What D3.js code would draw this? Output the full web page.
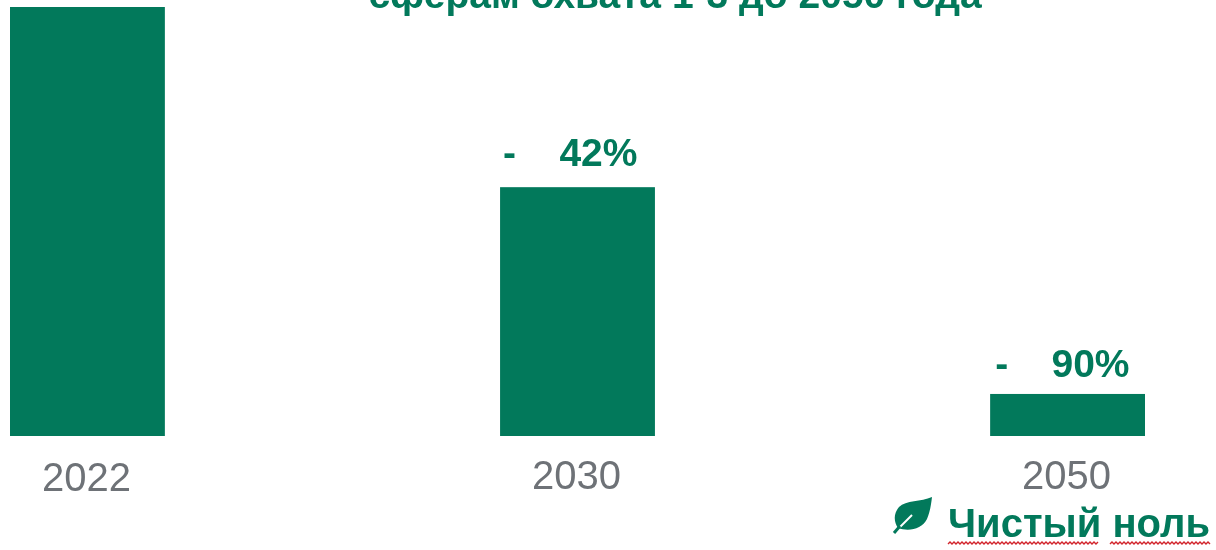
<!DOCTYPE html>
<html>
<head>
<meta charset="utf-8">
<script src="https://d3js.org/d3.v7.min.js"></script>
<style>
  html, body { margin: 0; padding: 0; background: #fff; overflow: hidden; }
  text { font-family: "Liberation Sans", Arial, sans-serif; }
  svg { filter: blur(0.5px); }
</style>
</head>
<body>
<svg id="chart" width="1216" height="550"></svg>
<script>
var years = ["2022", "2030", "2050"];
var values = [100, 58, 9.8];
var labels = ["", "-    42%", "-    90%"];
var titleText = "сферам охвата 1-3 до 2050 года";
var badgeWords = ["Чистый", "ноль"];

var green = "#02795b";
var svg = d3.select("#chart");

var x = d3.scaleBand()
    .domain(years)
    .range([10, 1145])
    .paddingInner(0.684)
    .paddingOuter(0);

var y = d3.scaleLinear()
    .domain([0, 100])
    .range([436, 7]);

// title, cut off by the top edge like in the original
svg.append("text")
    .attr("x", 675)
    .attr("y", 8)
    .attr("text-anchor", "middle")
    .attr("font-size", 39)
    .attr("font-weight", "bold")
    .attr("fill", green)
    .text(titleText);

svg.selectAll("rect.bar")
    .data(values)
    .enter()
    .append("rect")
    .attr("class", "bar")
    .attr("x", function(d, i) { return x(years[i]); })
    .attr("y", function(d) { return y(d); })
    .attr("width", x.bandwidth())
    .attr("height", function(d) { return y(0) - y(d); })
    .attr("fill", green);

svg.selectAll("text.value")
    .data(values)
    .enter()
    .append("text")
    .attr("class", "value")
    .attr("x", function(d, i) { return x(years[i]) + (i == 2 ? 5 : 3); })
    .attr("y", function(d, i) { return y(d) - (i == 2 ? 17 : 21); })
    .attr("font-size", 39)
    .attr("font-weight", "bold")
    .attr("fill", green)
    .style("white-space", "pre")
    .text(function(d, i) { return labels[i]; });

var xAxis = svg.append("g")
    .attr("transform", "translate(-1,436)")
    .call(d3.axisBottom(x).tickSize(0).tickPadding(25));

xAxis.select(".domain").remove();
xAxis.selectAll("text")
    .attr("font-size", 40)
    .attr("fill", "#6e7277")
    .style("font-family", "'Liberation Sans', Arial, sans-serif");

// the first year sits a little lower in the original
xAxis.selectAll("text")
    .filter(function(d) { return d == "2022"; })
    .attr("y", 27);

// leaf icon
var leaf = svg.append("g").attr("transform", "translate(893,497)");
leaf.append("path")
    .attr("d", "M39 0 C28 5 13 3 6 10 C0 17 1 25 5 31 C16 35 29 32 34 22 C37 15 38 8 39 0 Z")
    .attr("fill", green);
leaf.append("path")
    .attr("d", "M7 30 L19 18")
    .attr("fill", "none")
    .attr("stroke", "#fff")
    .attr("stroke-width", 2);
leaf.append("path")
    .attr("d", "M1 36 L7 29")
    .attr("fill", "none")
    .attr("stroke", green)
    .attr("stroke-width", 3);

// badge text, with spell check squiggles below each word
var badge = svg.append("text")
    .attr("x", 948)
    .attr("y", 537)
    .attr("font-size", 40)
    .attr("font-weight", "bold")
    .attr("fill", green)
    .text(badgeWords.join(" "));

function squiggle(x0, x1, yy) {
    var d = "M" + x0 + " " + yy;
    for (var px = x0 + 2, up = true; px <= x1; px += 2, up = !up) {
        d += " L" + px + " " + (up ? yy - 2 : yy);
    }
    return d;
}

svg.append("path")
    .attr("d", squiggle(948, 1098, 544) + " " + squiggle(1110, 1210, 544))
    .attr("fill", "none")
    .attr("stroke", "#d2232a")
    .attr("stroke-width", 1.4);
</script>
</body>
</html>
